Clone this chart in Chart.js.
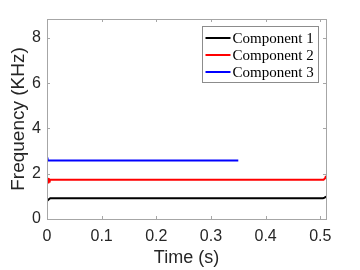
<!DOCTYPE html>
<html lang="en">
<head>
    <meta charset="UTF-8"/>
    <title>Frequency components</title>
    <script src="https://cdn.jsdelivr.net/npm/chart.js"></script>
    <style>
        html, body {
            margin: 0;
            padding: 0;
            background-color: #fff;
        }
        canvas {
            display: block;
        }
    </style>
</head>
<body>
<canvas id="freqChart" width="360" height="270"></canvas>

<script>
    // series (time in s, frequency in kHz)
    const seriesNames = ['Component 1', 'Component 2', 'Component 3'];
    const seriesColors = ['#000000', '#ff0000', '#0000ff'];

    const time1 = [0, 0.002, 0.004, 0.006, 0.505, 0.508, 0.5105];
    const freq1 = [0.80, 0.84, 0.88, 0.92, 0.92, 0.94, 1.0];

    const time2 = [0, 0.001, 0.002, 0.003, 0.004, 0.005, 0.506, 0.509, 0.5105];
    const freq2 = [1.60, 1.82, 1.62, 1.80, 1.66, 1.73, 1.73, 1.80, 1.90];

    const time3 = [0, 0.001, 0.35];
    const freq3 = [2.72, 2.58, 2.58];

    const xTicks = [0, 0.1, 0.2, 0.3, 0.4, 0.5];
    const yTicks = [0, 2, 4, 6, 8];

    const xMax = 0.5105;
    const yMax = 8.83;

    const toPoints = (xs, ys) => xs.map((x, i) => ({x: x, y: ys[i]}));
    const seriesData = [toPoints(time1, freq1), toPoints(time2, freq2), toPoints(time3, freq3)];

    const axisGray = '#a6a6a6';
    const labelGray = '#262626';
    const sansFont = '"Liberation Sans", Arial, sans-serif';

    // box around the plot with inward tick marks, matlab style
    const boxPlugin = {
        id: 'boxAxes',
        afterDraw(chart) {
            const {ctx, chartArea: a, scales} = chart;
            const tl = 3;
            ctx.save();
            ctx.strokeStyle = axisGray;
            ctx.lineWidth = 1;
            ctx.strokeRect(a.left + 0.5, a.top + 0.5, a.right - a.left, a.bottom - a.top);
            ctx.beginPath();
            xTicks.forEach(v => {
                const px = Math.round(scales.x.getPixelForValue(v)) + 0.5;
                ctx.moveTo(px, a.bottom); ctx.lineTo(px, a.bottom - tl);
                ctx.moveTo(px, a.top); ctx.lineTo(px, a.top + tl);
            });
            yTicks.forEach(v => {
                const py = Math.round(scales.y.getPixelForValue(v)) + 0.5;
                ctx.moveTo(a.left, py); ctx.lineTo(a.left + tl, py);
                ctx.moveTo(a.right, py); ctx.lineTo(a.right - tl, py);
            });
            ctx.stroke();

            // legend box
            const lx = 202.5, ly = 26.5, lw = 116, lh = 56;
            ctx.fillStyle = '#fff';
            ctx.fillRect(lx, ly, lw, lh);
            ctx.strokeStyle = '#8c8c8c';
            ctx.strokeRect(lx, ly, lw, lh);
            ctx.font = '15px "Liberation Serif", "Times New Roman", serif';
            ctx.textBaseline = 'middle';
            chart.data.datasets.forEach((ds, i) => {
                const y = ly + 11.5 + i * 17;
                ctx.strokeStyle = ds.borderColor;
                ctx.lineWidth = 2;
                ctx.beginPath();
                ctx.moveTo(lx + 3, y);
                ctx.lineTo(lx + 28, y);
                ctx.stroke();
                ctx.fillStyle = '#000';
                ctx.fillText(ds.label, lx + 30, y + 1);
            });
            ctx.restore();
        }
    };

    const ctx = document.getElementById('freqChart').getContext('2d');

    const freqChart = new Chart(ctx, {
        type: 'scatter',
        data: {
            datasets: seriesNames.map((name, i) => ({
                label: name,
                data: seriesData[i],
                showLine: true,
                borderColor: seriesColors[i],
                backgroundColor: seriesColors[i],
                borderWidth: 2,
                pointRadius: 0,
                tension: 0
            }))
        },
        options: {
            responsive: false,
            animation: false,
            layout: {
                padding: {left: 0, right: 34, top: 19, bottom: 0}
            },
            scales: {
                x: {
                    type: 'linear',
                    min: 0,
                    max: xMax,
                    afterBuildTicks: s => { s.ticks = xTicks.map(v => ({value: v})); },
                    afterFit: s => { s.height = 51; },
                    grid: {display: false, drawTicks: false},
                    border: {display: false},
                    ticks: {
                        color: labelGray,
                        padding: 8,
                        maxRotation: 0,
                        font: {family: sansFont, size: 16},
                        callback: v => String(v)
                    },
                    title: {
                        display: true,
                        text: 'Time (s)',
                        color: labelGray,
                        padding: {top: 0, bottom: 1},
                        font: {family: sansFont, size: 18}
                    }
                },
                y: {
                    type: 'linear',
                    min: 0,
                    max: yMax,
                    afterBuildTicks: s => { s.ticks = yTicks.map(v => ({value: v})); },
                    afterFit: s => { s.width = 47; },
                    grid: {display: false, drawTicks: false},
                    border: {display: false},
                    ticks: {
                        color: labelGray,
                        padding: 6,
                        font: {family: sansFont, size: 16},
                        callback: v => String(v)
                    },
                    title: {
                        display: true,
                        text: 'Frequency (KHz)',
                        color: labelGray,
                        padding: {top: 7, bottom: 0},
                        font: {family: sansFont, size: 19}
                    }
                }
            },
            plugins: {
                legend: {display: false},
                tooltip: {enabled: false}
            }
        },
        plugins: [boxPlugin]
    });
</script>
</body>
</html>
